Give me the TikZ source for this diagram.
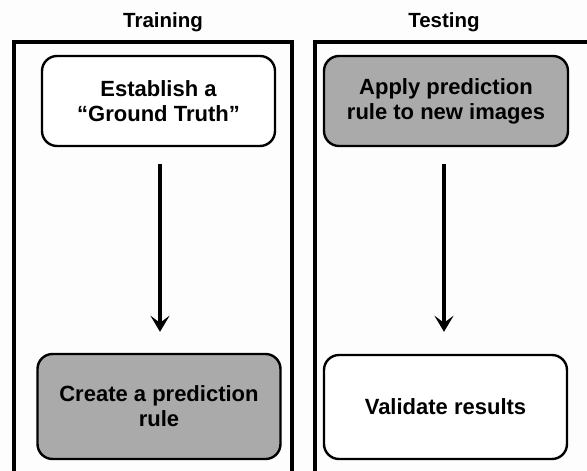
\documentclass[tikz,border=0pt]{standalone}
\usepackage{fontspec}
\setmainfont{Liberation Sans}
\usetikzlibrary{arrows.meta}
\definecolor{boxgray}{RGB}{170,170,170}
\definecolor{bgwhite}{RGB}{253,253,254}
\tikzset{
  panel/.style={draw=black, line width=3.4pt},
  stepbox/.style={draw=black, line width=2.4pt, rounded corners=15pt, align=center,
    font=\bfseries\fontsize{22}{25}\selectfont, inner sep=0pt},
  whitebox/.style={stepbox, fill=white},
  graybox/.style={stepbox, fill=boxgray},
  title/.style={font=\bfseries\fontsize{20.5}{24}\selectfont},
  flow/.style={line width=3.8pt, -{Stealth[length=16pt,width=19pt,inset=7pt]}}
}
\begin{document}
\begin{tikzpicture}[x=1pt,y=-1pt]
\useasboundingbox (0,0) rectangle (587,471);
\fill[bgwhite] (0,0) rectangle (587,471);
\clip (0,0) rectangle (587,471);
\draw[panel] (14,42) rectangle (292,490);
\draw[panel] (315,42) rectangle (600,490);
\node[title] (t1) at (163,22) {Training};
\node[title] (t2) at (444,22) {Testing};
\node[whitebox, minimum width=233pt, minimum height=90pt] (a) at (158.5,101) {Establish a\\“Ground Truth”};
\node[graybox, minimum width=243pt, minimum height=105pt] (b) at (159,406.5) {Create a prediction\\rule};
\node[graybox, minimum width=244pt, minimum height=90pt] (c) at (446,101) {Apply prediction\\rule to new images};
\node[whitebox, minimum width=243pt, minimum height=104pt] (d) at (445.5,407) {Validate results};
\draw[flow, shorten <=17pt, shorten >=21pt] (a.south -| 160,0) -- (b.north -| 160,0);
\draw[flow, shorten <=17pt, shorten >=22pt] (c.south -| 444,0) -- (d.north -| 444,0);
\end{tikzpicture}
\end{document}
